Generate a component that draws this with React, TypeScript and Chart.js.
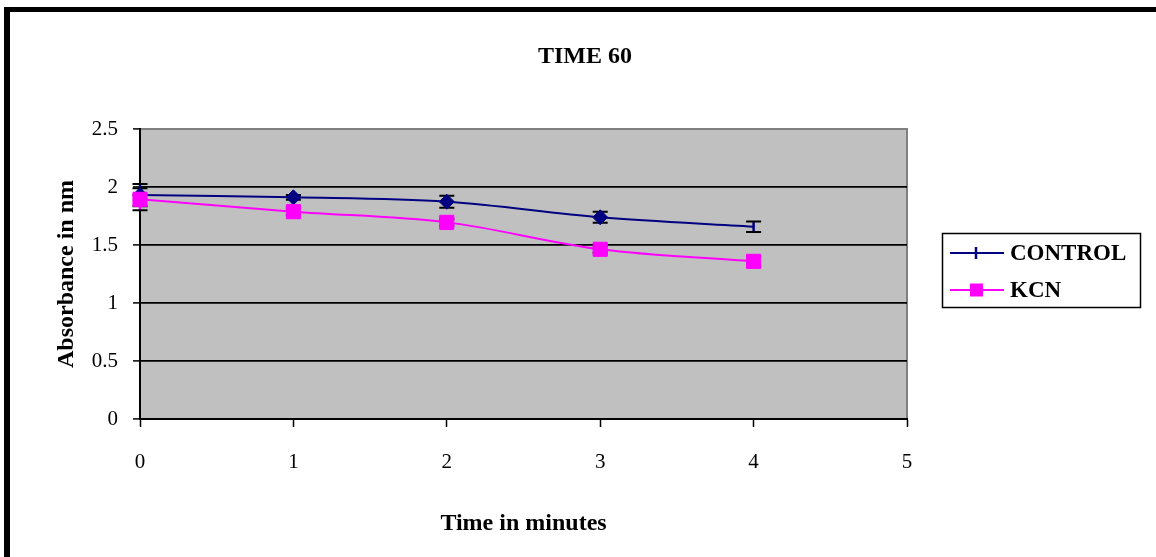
import React, { useEffect, useRef } from "react";
import { Chart, registerables } from "chart.js";

Chart.register(...registerables);

// ---- data ----
const timePoints = [0, 1, 2, 3, 4];
const controlValues = [1.93, 1.911, 1.873, 1.739, 1.658];
const controlErrors = [0.095, 0.02, 0.052, 0.047, 0.045];
const kcnValues = [1.894, 1.787, 1.695, 1.463, 1.359];
const kcnErrors = [0.095, 0.03, 0.03, 0.03, 0.045];
const controlMarkerSizes = [7.5, 7.5, 7.5, 7.5, 0];
const xTickValues = [0, 1, 2, 3, 4, 5];
const yTickValues = [0, 0.5, 1, 1.5, 2, 2.5];
const seriesNames = ["CONTROL", "KCN"];
const chartTitle = "TIME 60";
const xAxisTitle = "Time in minutes";
const yAxisTitle = "Absorbance in nm";

const SERIF = "'Liberation Serif', 'Times New Roman', Times, serif";
const NAVY = "#000080";
const MAGENTA = "#FF00FF";

const framePlugin = {
  id: "frameAndPlot",
  beforeDraw(chart: any) {
    const { ctx, chartArea: a } = chart;
    ctx.save();
    ctx.fillStyle = "#ffffff";
    ctx.fillRect(0, 0, chart.width, chart.height);
    ctx.fillStyle = "#000000";
    ctx.fillRect(4, 7, chart.width - 4, 5);
    ctx.fillRect(4, 7, 6, chart.height - 7);
    ctx.fillStyle = "#C0C0C0";
    ctx.fillRect(a.left, a.top, a.right - a.left, a.bottom - a.top);
    ctx.strokeStyle = "#808080";
    ctx.lineWidth = 2;
    ctx.beginPath();
    ctx.moveTo(a.left, a.top);
    ctx.lineTo(a.right, a.top);
    ctx.lineTo(a.right, a.bottom);
    ctx.stroke();
    // chart title
    ctx.fillStyle = "#000000";
    ctx.font = `bold 24px ${SERIF}`;
    ctx.textAlign = "center";
    ctx.textBaseline = "middle";
    ctx.fillText(chartTitle, 585, 57);
    ctx.restore();
  },
};

const errorBarPlugin = {
  id: "errorBars",
  beforeDatasetsDraw(chart: any) {
    const { ctx } = chart;
    const xs = chart.scales.x;
    const ys = chart.scales.y;
    const sets = [
      { vals: controlValues, errs: controlErrors, color: NAVY },
      { vals: kcnValues, errs: kcnErrors, color: MAGENTA },
    ];
    ctx.save();
    sets.forEach((s) => {
      timePoints.forEach((t, i) => {
        const px = xs.getPixelForValue(t);
        const top = ys.getPixelForValue(s.vals[i] + s.errs[i]);
        const bot = ys.getPixelForValue(s.vals[i] - s.errs[i]);
        ctx.strokeStyle = s.color;
        ctx.lineWidth = 2.5;
        ctx.beginPath();
        ctx.moveTo(px, top);
        ctx.lineTo(px, bot);
        ctx.stroke();
        ctx.strokeStyle = "#000000";
        ctx.lineWidth = 2;
        ctx.beginPath();
        ctx.moveTo(px - 7.5, top);
        ctx.lineTo(px + 7.5, top);
        ctx.moveTo(px - 7.5, bot);
        ctx.lineTo(px + 7.5, bot);
        ctx.stroke();
      });
    });
    ctx.restore();
  },
};

const legendPlugin = {
  id: "excelLegend",
  afterDraw(chart: any) {
    const { ctx } = chart;
    ctx.save();
    ctx.strokeStyle = "#000000";
    ctx.lineWidth = 1.5;
    ctx.strokeRect(942.5, 233.5, 198, 74);
    const rows = [
      { name: seriesNames[0], color: NAVY, y: 253, marker: "tick" },
      { name: seriesNames[1], color: MAGENTA, y: 290, marker: "square" },
    ];
    rows.forEach((r) => {
      ctx.strokeStyle = r.color;
      ctx.lineWidth = 2;
      ctx.beginPath();
      ctx.moveTo(950, r.y);
      ctx.lineTo(1004, r.y);
      ctx.stroke();
      if (r.marker === "tick") {
        ctx.lineWidth = 2.5;
        ctx.beginPath();
        ctx.moveTo(976, r.y - 6);
        ctx.lineTo(976, r.y + 6);
        ctx.stroke();
      } else {
        ctx.fillStyle = r.color;
        ctx.fillRect(970, r.y - 6.5, 13, 13);
      }
      ctx.fillStyle = "#000000";
      ctx.font = `bold 23px ${SERIF}`;
      ctx.textBaseline = "middle";
      ctx.textAlign = "left";
      ctx.fillText(r.name, 1010, r.y + 1);
    });
    ctx.restore();
  },
};

export default function App() {
  const ref = useRef<HTMLCanvasElement | null>(null);

  useEffect(() => {
    if (!ref.current) return;
    const chart = new Chart(ref.current, {
      type: "line",
      data: {
        datasets: [
          {
            label: seriesNames[0],
            data: timePoints.map((t, i) => ({ x: t, y: controlValues[i] })),
            borderColor: NAVY,
            backgroundColor: NAVY,
            borderWidth: 2,
            pointStyle: "rectRot",
            pointRadius: controlMarkerSizes,
            pointBorderWidth: 1,
            pointBorderColor: NAVY,
            pointBackgroundColor: NAVY,
            tension: 0.35,
            clip: false,
            order: 1,
          },
          {
            label: seriesNames[1],
            data: timePoints.map((t, i) => ({ x: t, y: kcnValues[i] })),
            borderColor: MAGENTA,
            backgroundColor: MAGENTA,
            borderWidth: 2,
            pointStyle: "rect",
            pointRadius: 10,
            pointBorderWidth: 1,
            pointBorderColor: MAGENTA,
            pointBackgroundColor: MAGENTA,
            tension: 0.35,
            clip: false,
            order: 0,
          },
        ],
      },
      options: {
        animation: false,
        responsive: false,
        devicePixelRatio: 1,
        layout: { padding: { left: 48, right: 249, top: 129, bottom: 15 } },
        plugins: {
          legend: { display: false },
          tooltip: { enabled: false },
          title: { display: false },
        },
        scales: {
          x: {
            type: "linear",
            min: 0,
            max: 5,
            afterBuildTicks: (s: any) => {
              s.ticks = xTickValues.map((v) => ({ value: v }));
            },
            afterFit: (s: any) => {
              s.height = 123;
            },
            ticks: {
              color: "#000000",
              font: { family: SERIF, size: 21 },
              padding: 23,
              maxRotation: 0,
              callback: (v: any) => String(v),
            },
            grid: {
              drawOnChartArea: false,
              drawTicks: true,
              tickLength: 8,
              tickColor: "#000000",
              tickWidth: 1.5,
            },
            border: { color: "#000000", width: 2 },
            title: {
              display: true,
              text: xAxisTitle,
              color: "#000000",
              font: { family: SERIF, size: 24, weight: "bold" },
            },
          },
          y: {
            type: "linear",
            min: 0,
            max: 2.5,
            afterBuildTicks: (s: any) => {
              s.ticks = yTickValues.map((v) => ({ value: v }));
            },
            afterFit: (s: any) => {
              s.width = 92;
            },
            ticks: {
              color: "#000000",
              font: { family: SERIF, size: 21 },
              padding: 15,
              callback: (v: any) => String(v),
            },
            grid: {
              drawOnChartArea: true,
              drawTicks: true,
              tickLength: 7,
              color: (c: any) => (c.tick && c.tick.value >= 2.5 ? "#808080" : "#000000"),
              lineWidth: 1.8,
              tickColor: "#000000",
              tickWidth: 1.5,
            },
            border: { color: "#000000", width: 2 },
            title: {
              display: true,
              text: yAxisTitle,
              color: "#000000",
              font: { family: SERIF, size: 24, weight: "bold" },
            },
          },
        },
      },
      plugins: [framePlugin, errorBarPlugin, legendPlugin],
    } as any);
    return () => chart.destroy();
  }, []);

  return (
    <div style={{ position: "absolute", left: 0, top: 0, width: 1156, height: 557 }}>
      <canvas ref={ref} width={1156} height={557} style={{ display: "block" }} />
    </div>
  );
}
